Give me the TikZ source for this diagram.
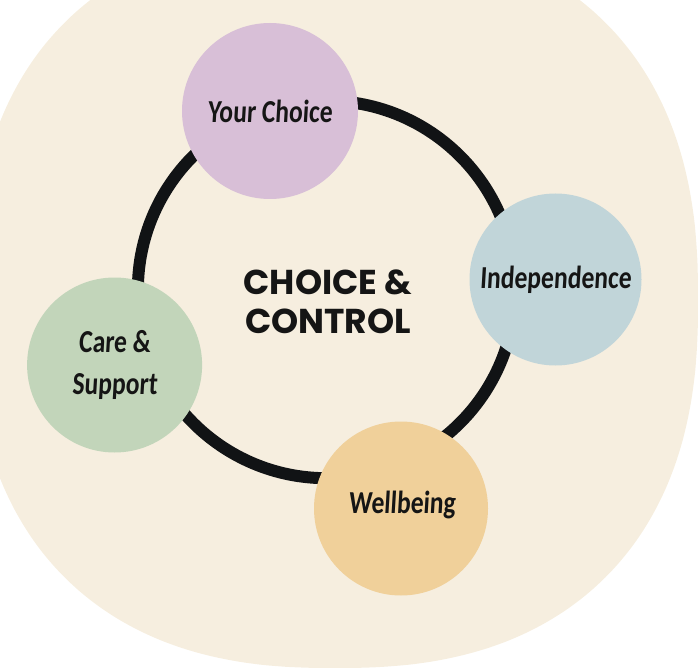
\documentclass[tikz,border=0pt]{standalone}
\usepackage{fontspec}
\newfontfamily\titlefont{Poppins}
\newfontfamily\handfont{Carlito}[FakeStretch=0.8,FakeSlant=0.06]
\definecolor{bgbeige}{HTML}{F6EEDF}
\definecolor{ycpurple}{HTML}{D8BFD7}
\definecolor{indblue}{HTML}{C1D5D9}
\definecolor{csgreen}{HTML}{C2D5BA}
\definecolor{wbyellow}{HTML}{F0D09A}
\definecolor{ringblack}{HTML}{111315}
\definecolor{inkblack}{HTML}{151515}
\tikzset{
  bubble/.style={circle, inner sep=0pt, text=inkblack, align=center,
    font=\handfont\bfseries\fontsize{32}{42}\selectfont},
  titletext/.style={text=inkblack, align=center, inner sep=0pt,
    font=\titlefont\bfseries\fontsize{34.5}{38.5}\selectfont}
}
\begin{document}
\begin{tikzpicture}[x=1pt,y=-1pt]
\useasboundingbox (0,0) rectangle (698,668);
\clip (0,0) rectangle (698,668);
% background blob (superellipse)
\fill[bgbeige] plot[domain=0.3:359.3, samples=240, smooth cycle, variable=\t]
  ({335+363*sign(cos(\t))*pow(abs(cos(\t))+0.00001,0.8333)},
   {300+368*sign(sin(\t))*pow(abs(sin(\t))+0.00001,0.8333)});
% ring
\draw[ringblack, line width=12pt] (326.6,289.5) circle[radius=188.7pt];
% bubbles
\node[bubble, fill=ycpurple, minimum size=176pt] (yc) at (270,111) {Your Choice};
\node[bubble, fill=indblue, minimum size=172pt] (ind) at (555.5,279.5) {Independence};
\node[bubble, fill=csgreen, minimum size=175pt] (cs) at (114.6,365) {Care \&\\Support};
\node[bubble, fill=wbyellow, minimum size=174pt] (wb) at (401,508.5) {};
\node[bubble] (wbt) at (402,505) {Wellbeing};
% title
\node[titletext] (title) at (328,302) {CHOICE \&\\CONTROL};
\end{tikzpicture}
\end{document}
